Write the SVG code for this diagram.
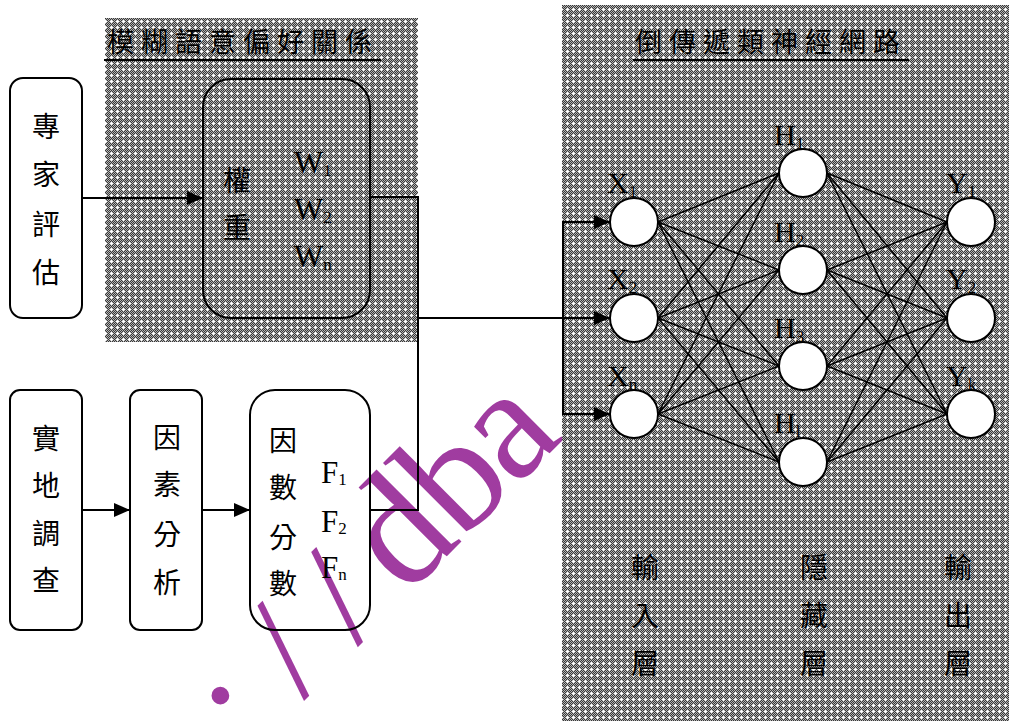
<svg xmlns="http://www.w3.org/2000/svg" width="1009" height="721" viewBox="0 0 1009 721">
<defs>
<pattern id="hatch" width="6" height="6" patternUnits="userSpaceOnUse">
<rect width="6" height="6" fill="#b4b4b4"/>
<path d="M1 0h1v1h-1zM3 0h1v1h-1zM5 0h1v1h-1zM0 1h1v1h-1zM2 1h1v1h-1zM4 1h1v1h-1zM1 2h1v1h-1zM3 2h1v1h-1zM5 2h1v1h-1zM0 3h1v1h-1zM2 3h1v1h-1zM4 3h1v1h-1zM1 4h1v1h-1zM3 4h1v1h-1zM5 4h1v1h-1zM0 5h1v1h-1zM2 5h1v1h-1zM4 5h1v1h-1z" fill="#383838"/>
<path d="M2 3h3v1h-3zM3 2h1v3h-1z" fill="#ffffff"/>
</pattern>
<marker id="arr" viewBox="0 0 16 14" refX="16" refY="7" markerWidth="16" markerHeight="14" markerUnits="userSpaceOnUse" orient="auto">
<path d="M0 0L16 7L0 14z" fill="#000"/>
</marker>
<style>
.cjk{font-family:"Noto Sans CJK TC","Noto Sans CJK SC",sans-serif;font-size:28px;fill:#000;text-anchor:middle}
.title{font-family:"Noto Sans CJK TC","Noto Sans CJK SC",sans-serif;font-size:27px;fill:#000;letter-spacing:7px}
.lat{font-family:"Liberation Serif",serif;font-size:31px;fill:#000}
.nl{font-family:"Liberation Serif",serif;font-size:30px;fill:#000}
.sub{font-family:"Liberation Serif",serif;font-size:17px;fill:#000}
.box{fill:none;stroke:#000;stroke-width:2}
.node{fill:#fff;stroke:#000;stroke-width:2}
.conn{fill:none;stroke:#000;stroke-width:2}
.edge{stroke:#000;stroke-width:1.5}
.wm{font-family:"Liberation Serif",serif;font-size:150px;fill:#a03ca0}
.wm2{font-family:"Liberation Serif",serif;font-size:160px;fill:#a03ca0}
</style>
</defs>
<rect width="1009" height="721" fill="#fff"/>

<g id="watermark" transform="translate(303,700) rotate(-45)">
<text class="wm" x="-76" y="0">:</text>
<text class="wm" x="0" y="0">/</text>
<text class="wm" x="76" y="0">/</text>
<text class="wm2" x="146" y="0">d</text>
<text class="wm2" x="224" y="0">b</text>
<text class="wm2" x="300" y="0">a</text>
</g>

<g id="panel-fuzzy">
<rect x="105" y="18" width="313" height="324" fill="url(#hatch)"/>
<text class="title" x="107" y="52">模糊語意偏好關係</text>
<line x1="104" y1="60" x2="381" y2="60" stroke="#000" stroke-width="2"/>
</g>

<g id="panel-bpn">
<rect x="562" y="5" width="447" height="716" fill="url(#hatch)"/>
<text class="title" x="635" y="52">倒傳遞類神經網路</text>
<line x1="633" y1="60" x2="909" y2="60" stroke="#000" stroke-width="2"/>
</g>

<g id="connectors">
<line class="conn" x1="82" y1="198" x2="203" y2="198" marker-end="url(#arr)"/>
<line class="conn" x1="82" y1="510" x2="130" y2="510" marker-end="url(#arr)"/>
<line class="conn" x1="202" y1="510" x2="250" y2="510" marker-end="url(#arr)"/>
<polyline class="conn" points="370,197 418,197 418,510 370,510"/>
<line class="conn" x1="418" y1="318" x2="563" y2="318"/>
<line class="conn" x1="563" y1="221" x2="563" y2="415"/>
<line class="conn" x1="563" y1="222" x2="610" y2="222" marker-end="url(#arr)"/>
<line class="conn" x1="563" y1="318" x2="610" y2="318" marker-end="url(#arr)"/>
<line class="conn" x1="563" y1="414" x2="610" y2="414" marker-end="url(#arr)"/>
<g id="nn-edges">
<line class="edge" x1="658" y1="222" x2="779" y2="173"/>
<line class="edge" x1="658" y1="222" x2="779" y2="270"/>
<line class="edge" x1="658" y1="222" x2="779" y2="366"/>
<line class="edge" x1="658" y1="222" x2="779" y2="462"/>
<line class="edge" x1="658" y1="318" x2="779" y2="173"/>
<line class="edge" x1="658" y1="318" x2="779" y2="270"/>
<line class="edge" x1="658" y1="318" x2="779" y2="366"/>
<line class="edge" x1="658" y1="318" x2="779" y2="462"/>
<line class="edge" x1="658" y1="414" x2="779" y2="173"/>
<line class="edge" x1="658" y1="414" x2="779" y2="270"/>
<line class="edge" x1="658" y1="414" x2="779" y2="366"/>
<line class="edge" x1="658" y1="414" x2="779" y2="462"/>
<line class="edge" x1="827" y1="173" x2="947" y2="222"/>
<line class="edge" x1="827" y1="173" x2="947" y2="318"/>
<line class="edge" x1="827" y1="173" x2="947" y2="414"/>
<line class="edge" x1="827" y1="270" x2="947" y2="222"/>
<line class="edge" x1="827" y1="270" x2="947" y2="318"/>
<line class="edge" x1="827" y1="270" x2="947" y2="414"/>
<line class="edge" x1="827" y1="366" x2="947" y2="222"/>
<line class="edge" x1="827" y1="366" x2="947" y2="318"/>
<line class="edge" x1="827" y1="366" x2="947" y2="414"/>
<line class="edge" x1="827" y1="462" x2="947" y2="222"/>
<line class="edge" x1="827" y1="462" x2="947" y2="318"/>
<line class="edge" x1="827" y1="462" x2="947" y2="414"/>
</g>
</g>

<g id="expert">
<rect class="box" x="10" y="78" width="72" height="240" rx="13"/>
<text class="cjk" x="46" y="137">專</text>
<text class="cjk" x="46" y="185">家</text>
<text class="cjk" x="46" y="235">評</text>
<text class="cjk" x="46" y="283">估</text>
</g>

<g id="weights">
<rect class="box" x="203" y="79" width="167" height="239" rx="28"/>
<text class="cjk" x="237" y="191">權</text>
<text class="cjk" x="237" y="238">重</text>
<text class="lat" x="294" y="173">W<tspan class="sub" dy="3">1</tspan></text>
<text class="lat" x="294" y="220">W<tspan class="sub" dy="3">2</tspan></text>
<text class="lat" x="294" y="267">W<tspan class="sub" dy="3">n</tspan></text>
</g>

<g id="survey">
<rect class="box" x="10" y="390" width="72" height="240" rx="10"/>
<text class="cjk" x="46" y="449">實</text>
<text class="cjk" x="46" y="496">地</text>
<text class="cjk" x="46" y="544">調</text>
<text class="cjk" x="46" y="591">查</text>
</g>

<g id="factor-analysis">
<rect class="box" x="130" y="390" width="72" height="240" rx="10"/>
<text class="cjk" x="167" y="448">因</text>
<text class="cjk" x="167" y="495">素</text>
<text class="cjk" x="167" y="545">分</text>
<text class="cjk" x="167" y="593">析</text>
</g>

<g id="factor-scores">
<rect class="box" x="250" y="390" width="120" height="240" rx="25"/>
<text class="cjk" x="283" y="451">因</text>
<text class="cjk" x="283" y="498">數</text>
<text class="cjk" x="283" y="548">分</text>
<text class="cjk" x="283" y="594">數</text>
<text class="lat" x="321" y="483">F<tspan class="sub" dy="2">1</tspan></text>
<text class="lat" x="321" y="532">F<tspan class="sub" dy="2">2</tspan></text>
<text class="lat" x="321" y="578">F<tspan class="sub" dy="2">n</tspan></text>
</g>

<g id="labels-nn">
<text class="nl" x="607" y="193">X<tspan class="sub" dy="4">1</tspan></text>
<text class="nl" x="607" y="289">X<tspan class="sub" dy="4">2</tspan></text>
<text class="nl" x="607" y="386">X<tspan class="sub" dy="4">n</tspan></text>
<text class="nl" x="774" y="145">H<tspan class="sub" dy="4">1</tspan></text>
<text class="nl" x="774" y="242">H<tspan class="sub" dy="4">2</tspan></text>
<text class="nl" x="774" y="338">H<tspan class="sub" dy="4">3</tspan></text>
<text class="nl" x="774" y="433">H<tspan class="sub" dy="4">l</tspan></text>
<text class="nl" x="946" y="193">Y<tspan class="sub" dy="4">1</tspan></text>
<text class="nl" x="946" y="289">Y<tspan class="sub" dy="4">2</tspan></text>
<text class="nl" x="946" y="386">Y<tspan class="sub" dy="4">k</tspan></text>
</g>

<g id="x1"><circle class="node" cx="634" cy="222" r="24"/></g>
<g id="x2"><circle class="node" cx="634" cy="318" r="24"/></g>
<g id="xn"><circle class="node" cx="634" cy="414" r="24"/></g>
<g id="h1"><circle class="node" cx="803" cy="173" r="24"/></g>
<g id="h2"><circle class="node" cx="803" cy="270" r="24"/></g>
<g id="h3"><circle class="node" cx="803" cy="366" r="24"/></g>
<g id="hl"><circle class="node" cx="803" cy="462" r="24"/></g>
<g id="y1"><circle class="node" cx="971" cy="222" r="24"/></g>
<g id="y2"><circle class="node" cx="971" cy="318" r="24"/></g>
<g id="yk"><circle class="node" cx="971" cy="414" r="24"/></g>

<g id="layer-labels">
<text class="cjk" x="645" y="578">輸</text>
<text class="cjk" x="645" y="626">入</text>
<text class="cjk" x="645" y="674">層</text>
<text class="cjk" x="814" y="578">隱</text>
<text class="cjk" x="814" y="626">藏</text>
<text class="cjk" x="814" y="674">層</text>
<text class="cjk" x="958" y="578">輸</text>
<text class="cjk" x="958" y="626">出</text>
<text class="cjk" x="958" y="674">層</text>
</g>
</svg>
